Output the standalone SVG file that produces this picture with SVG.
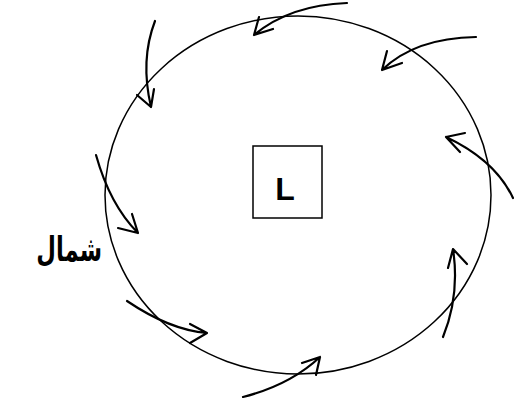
<svg xmlns="http://www.w3.org/2000/svg" width="514" height="418" viewBox="0 0 514 418">
<style>
.arr{fill:none;stroke:#000;stroke-width:2.2;stroke-linecap:round;stroke-linejoin:round}
.ring{fill:none;stroke:#000;stroke-width:1.5}
.t{font-family:"Liberation Sans","DejaVu Sans",sans-serif;font-weight:bold;fill:#000}
</style>
<rect width="514" height="418" fill="#fff"/>
<g id="ring"><ellipse class="ring" cx="298" cy="195" rx="193" ry="179"/></g>
<g id="low"><rect x="253" y="146" width="69" height="72" fill="#fff" stroke="#000" stroke-width="1.5"/><text class="t" x="285" y="200" font-size="32" text-anchor="middle">L</text></g>
<g id="label"><text class="t" transform="translate(102,261) scale(0.84,1.25)" font-size="27" text-anchor="end">شمال</text></g>
<g id="connectors">
<path class="arr" d="M155,21 Q140,60 151,107 M137,95 L151,107 L154,89"/>
<path class="arr" d="M347,3 Q290,5 254,35 M259,17 L254,35 L273,29"/>
<path class="arr" d="M476,37 Q415,38 382,70 M387,51 L382,70 L402,63"/>
<path class="arr" d="M513,198 Q495,160 446,137 M465,133 L446,137 L460,152"/>
<path class="arr" d="M443,337 Q460,295 453,249 M448,268 L453,249 L467,264"/>
<path class="arr" d="M243,397 Q290,385 320,357 M302,363 L320,357 L316,375"/>
<path class="arr" d="M127,301 Q170,330 207,333 M190,324 L207,333 L190,343"/>
<path class="arr" d="M96,155 Q110,205 138,233 M132,214 L138,233 L118,228"/>
</g>
</svg>
